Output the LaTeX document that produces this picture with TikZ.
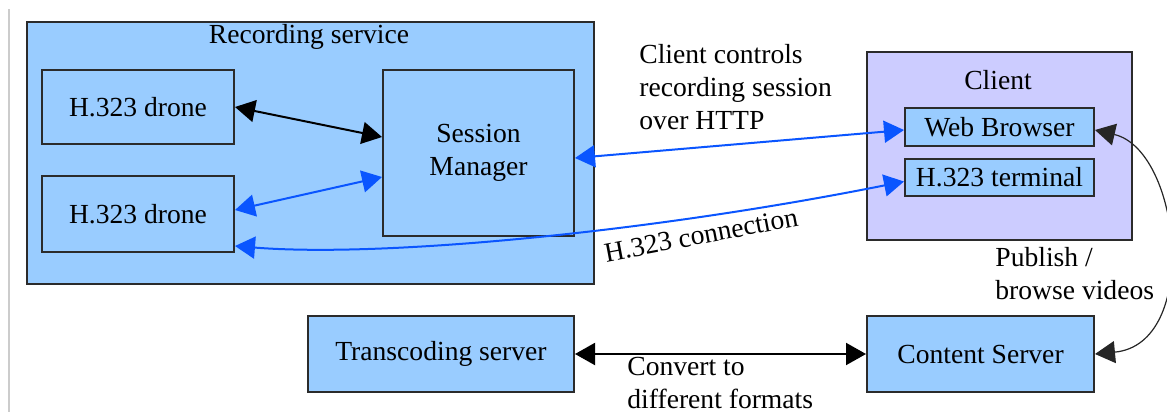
\documentclass[tikz,border=0pt]{standalone}
\usepackage{fontspec}
\setmainfont{Liberation Serif}
\usetikzlibrary{arrows.meta}
\definecolor{boxblue}{HTML}{99CCFF}
\definecolor{clientlav}{HTML}{CCCCFF}
\definecolor{linkblue}{HTML}{0A55FF}
\definecolor{boxline}{HTML}{2B2B2B}
\newcommand{\dgfont}{\fontsize{13.8}{16.5}\selectfont}
\tikzset{
  % a component box
  comp/.style  = {draw=boxline, line width=1pt, fill=boxblue, inner sep=0pt,
                  font=\dgfont, align=center},
  % a box that groups components
  grp/.style   = {draw=boxline, line width=1pt, inner sep=0pt},
  % free text
  txt/.style   = {font=\dgfont, inner sep=0pt, align=left},
  % a two-way link
  lnk/.style   = {{Triangle[length=10pt,width=11pt]}-{Triangle[length=10pt,width=11pt]},
                  line width=1pt},
  % a two-way link over the network
  blnk/.style  = {lnk, draw=linkblue},
  % the thin publish / browse link
  thlnk/.style = {{Triangle[length=10pt,width=11pt]}-{Triangle[length=10pt,width=11pt]},
                  line width=0.6pt, draw=black!85},
}

\begin{document}
\begin{tikzpicture}[x=0.5pt, y=-0.5pt]
  \useasboundingbox (0,0) rectangle (1167,412);
  \draw[black!20, line width=1pt] (9,9) -- (9,412);
  % recording service
  \node[grp, fill=boxblue, minimum width=283.5pt, minimum height=131pt] (rec) at (310.5,153) {};
  \node[txt] (rectitle) at (309,37) {Recording service};
  \node[comp, minimum width=96pt, minimum height=37pt] (d1) at (138,107) {H.323 drone};
  \node[comp, minimum width=96pt, minimum height=38pt] (d2) at (138,214) {H.323 drone};
  \node[comp, minimum width=95.5pt, minimum height=83pt] (sm) at (478.5,153) {Session\\Manager};
  % client
  \node[grp, fill=clientlav, minimum width=132.5pt, minimum height=94pt] (cl) at (999.5,146) {};
  \node[txt] (cltitle) at (998,80) {Client};
  \node[comp, minimum width=94.5pt, minimum height=19pt] (wb) at (999.5,127) {Web Browser};
  \node[comp, minimum width=94.5pt, minimum height=18.5pt] (term) at (999.5,177.5) {H.323 terminal};
  % servers
  \node[comp, minimum width=133pt, minimum height=38pt] (trans) at (441,354) {Transcoding server};
  \node[comp, minimum width=113.5pt, minimum height=38pt] (cs) at (980.5,354) {Content Server};
  % links
  \draw[lnk]  (d1.east) -- ([yshift=8pt]sm.west);
  \draw[blnk] ([yshift=2pt]d2.east) -- ([yshift=-12pt]sm.west);
  \draw[blnk] ([yshift=-2.5pt]sm.east) -- ([yshift=-1.5pt]wb.west);
  \draw[blnk] ([yshift=-16pt]d2.east) .. controls +(150,12) and +(-250,50) .. ([yshift=-2pt]term.west);
  \draw[lnk]  (trans.east) -- (cs.west);
  \draw[thlnk] ([yshift=-1.5pt]wb.east) .. controls +(86,20) and +(106,-10) .. (cs.east);
  % labels
  \node[txt, anchor=west] (httplbl) at (639,87) {Client controls\\recording session\\over HTTP};
  \node[txt, rotate=10.7] (h323lbl) at (701,235) {H.323 connection};
  \node[txt, anchor=west] (publbl) at (995,273.5) {Publish /\\browse videos};
  \node[txt, anchor=west] (convlbl) at (627,383) {Convert to\\different formats};
\end{tikzpicture}
\end{document}
